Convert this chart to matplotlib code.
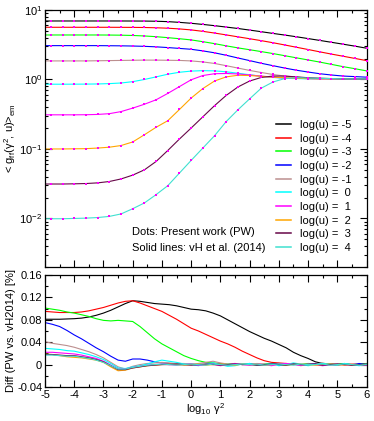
import numpy as np
import matplotlib
matplotlib.use("Agg")
import matplotlib.pyplot as plt
from matplotlib.ticker import MultipleLocator, LogLocator, NullFormatter

plt.rcParams['font.family'] = ['Liberation Sans', 'DejaVu Sans']
plt.rcParams['mathtext.fontset'] = 'custom'
plt.rcParams['mathtext.rm'] = 'Liberation Sans'
plt.rcParams['mathtext.it'] = 'Liberation Sans'

# ---------------- data: top panel ----------------
log_gamma2 = [-5.0, -4.8, -4.4, -4.0, -3.6, -3.2, -2.8, -2.4, -2.0, -1.6, -1.2, -0.8, -0.4, 0.0,
              0.4, 0.8, 1.2, 1.6, 2.0, 2.4, 2.8, 3.2, 3.6, 4.0, 4.4, 4.8, 5.2, 5.6, 6.0]
log_u = [-5, -4, -3, -2, -1, 0, 1, 2, 3, 4]

g_m5 = [6.95, 6.95, 6.95, 6.95, 6.95, 6.95, 6.95, 6.95, 6.94, 6.93, 6.89, 6.80, 6.64, 6.44,
        6.20, 5.95, 5.68, 5.42, 5.14, 4.87, 4.60, 4.36, 4.12, 3.88, 3.65, 3.43, 3.22, 3.02, 2.82]
g_m4 = [5.64, 5.64, 5.64, 5.64, 5.64, 5.64, 5.64, 5.63, 5.62, 5.60, 5.55, 5.47, 5.34, 5.17,
        4.93, 4.66, 4.38, 4.11, 3.86, 3.62, 3.38, 3.14, 2.91, 2.70, 2.50, 2.32, 2.16, 2.01, 1.87]
g_m3 = [4.37, 4.37, 4.37, 4.37, 4.37, 4.37, 4.36, 4.34, 4.30, 4.23, 4.13, 4.00, 3.86, 3.71,
        3.50, 3.28, 3.05, 2.85, 2.68, 2.52, 2.36, 2.20, 2.05, 1.91, 1.78, 1.65, 1.53, 1.43, 1.33]
g_m2 = [3.07, 3.07, 3.07, 3.07, 3.07, 3.07, 3.06, 3.05, 3.03, 3.00, 2.95, 2.88, 2.80, 2.72,
        2.58, 2.42, 2.23, 2.04, 1.87, 1.71, 1.58, 1.46, 1.36, 1.28, 1.21, 1.16, 1.12, 1.10, 1.08]
g_m1 = [1.85, 1.85, 1.85, 1.85, 1.85, 1.86, 1.87, 1.88, 1.89, 1.90, 1.90, 1.89, 1.88, 1.85,
        1.79, 1.70, 1.58, 1.46, 1.35, 1.26, 1.18, 1.12, 1.08, 1.05, 1.04, 1.03, 1.02, 1.02, 1.02]
g_0 = [0.855, 0.855, 0.855, 0.856, 0.858, 0.862, 0.872, 0.89, 0.93, 1.00, 1.09, 1.19, 1.27, 1.32,
       1.34, 1.33, 1.29, 1.23, 1.17, 1.11, 1.07, 1.04, 1.03, 1.02, 1.02, 1.02, 1.02, 1.02, 1.02]
g_1 = [0.31, 0.31, 0.31, 0.31, 0.311, 0.314, 0.322, 0.345, 0.387, 0.44, 0.51, 0.63, 0.79, 0.99,
       1.14, 1.21, 1.22, 1.20, 1.16, 1.12, 1.08, 1.05, 1.04, 1.03, 1.02, 1.02, 1.02, 1.02, 1.02]
g_2 = [0.10, 0.10, 0.10, 0.1005, 0.101, 0.103, 0.106, 0.112, 0.126, 0.16, 0.205, 0.255, 0.37, 0.54,
       0.74, 0.95, 1.09, 1.15, 1.14, 1.11, 1.08, 1.06, 1.04, 1.03, 1.02, 1.02, 1.02, 1.02, 1.02]
g_3 = [0.0313, 0.0313, 0.0313, 0.0315, 0.0318, 0.0325, 0.034, 0.037, 0.042, 0.050, 0.066, 0.095, 0.139, 0.20,
       0.29, 0.42, 0.59, 0.78, 0.95, 1.07, 1.12, 1.12, 1.09, 1.06, 1.04, 1.03, 1.02, 1.02, 1.02]
g_4 = [0.0099, 0.0099, 0.0099, 0.0100, 0.0101, 0.0103, 0.0107, 0.0116, 0.0138, 0.0167, 0.022, 0.0296, 0.045, 0.0684,
       0.103, 0.155, 0.248, 0.366, 0.526, 0.75, 0.92, 1.03, 1.06, 1.05, 1.04, 1.03, 1.02, 1.02, 1.02]

# ---------------- data: bottom panel ----------------
log_gamma2_d = [-5, -4.75, -4.5, -4.25, -4, -3.75, -3.5, -3.25, -3, -2.75, -2.5, -2.25, -2, -1.75, -1.5,
                -1.25, -1, -0.75, -0.5, -0.25, 0, 0.25, 0.5, 0.75, 1, 1.25, 1.5, 1.75, 2, 2.25,
                2.5, 2.75, 3, 3.25, 3.5, 3.75, 4, 4.25, 4.5, 4.75, 5, 5.25, 5.5, 5.75, 6]
d_m5 = [0.081, 0.081, 0.081, 0.0815, 0.082, 0.083, 0.085, 0.088, 0.092, 0.097, 0.103, 0.109, 0.114, 0.113, 0.111,
        0.109, 0.108, 0.107, 0.105, 0.102, 0.099, 0.098, 0.096, 0.092, 0.087, 0.080, 0.073, 0.066, 0.059, 0.053,
        0.047, 0.042, 0.036, 0.030, 0.022, 0.016, 0.011, 0.005, 0.002, 0.001, 0.000, 0.001, 0.000, -0.001, 0.000]
d_m4 = [0.095, 0.094, 0.093, 0.093, 0.093, 0.094, 0.096, 0.099, 0.102, 0.106, 0.110, 0.113, 0.114, 0.110, 0.105,
        0.100, 0.095, 0.088, 0.081, 0.073, 0.065, 0.060, 0.054, 0.048, 0.042, 0.037, 0.031, 0.024, 0.018, 0.012,
        0.007, 0.004, 0.003, 0.002, 0.001, 0.000, 0.001, 0.000, -0.001, 0.001, 0.000, 0.001, -0.001, 0.000, 0.001]
d_m3 = [0.101, 0.099, 0.097, 0.094, 0.092, 0.089, 0.086, 0.082, 0.079, 0.078, 0.079, 0.078, 0.077, 0.068, 0.057,
        0.046, 0.037, 0.030, 0.023, 0.016, 0.011, 0.007, 0.004, 0.003, 0.002, 0.001, 0.002, 0.000, 0.001, -0.001,
        0.001, 0.002, 0.000, -0.001, 0.001, 0.000, 0.002, 0.001, -0.001, 0.000, 0.001, 0.002, 0.000, 0.001, 0.002]
d_m2 = [0.075, 0.072, 0.068, 0.061, 0.053, 0.046, 0.038, 0.030, 0.023, 0.015, 0.008, 0.006, 0.010, 0.010, 0.008,
        0.005, 0.003, 0.002, 0.001, 0.000, 0.001, -0.001, 0.000, 0.002, 0.001, -0.001, 0.000, 0.001, 0.002, 0.000,
        -0.001, 0.001, 0.002, 0.000, 0.001, -0.001, 0.000, 0.002, 0.001, 0.000, -0.001, 0.001, 0.000, 0.002, 0.000]
d_m1 = [0.041, 0.038, 0.036, 0.034, 0.031, 0.027, 0.023, 0.018, 0.012, 0.004, -0.004, -0.008, -0.003, 0.000, 0.002,
        0.003, 0.004, 0.003, 0.002, 0.002, 0.001, 0.002, 0.004, 0.006, 0.003, 0.001, -0.001, 0.001, 0.000, 0.002,
        0.001, -0.001, 0.000, 0.002, 0.001, -0.002, 0.000, 0.001, 0.003, 0.000, -0.001, 0.001, 0.000, -0.001, 0.001]
d_0 = [0.029, 0.028, 0.027, 0.025, 0.024, 0.021, 0.018, 0.014, 0.009, 0.002, -0.006, -0.007, -0.004, -0.002, 0.001,
       0.005, 0.008, 0.006, 0.004, 0.001, 0.000, -0.002, 0.001, 0.003, 0.000, -0.003, -0.002, 0.001, 0.002, -0.001,
       0.000, 0.002, -0.002, 0.000, 0.003, 0.001, -0.002, 0.000, 0.002, 0.001, -0.001, 0.002, 0.000, -0.002, 0.001]
d_1 = [0.022, 0.022, 0.021, 0.020, 0.019, 0.017, 0.014, 0.011, 0.006, -0.001, -0.008, -0.008, -0.005, -0.003, -0.001,
       0.000, 0.001, 0.000, -0.001, 0.000, 0.001, -0.001, 0.000, 0.001, -0.002, 0.000, 0.002, 0.000, -0.001, 0.001,
       0.000, -0.002, 0.001, 0.002, 0.000, -0.001, 0.001, 0.000, -0.002, 0.000, 0.001, -0.001, 0.001, 0.000, -0.001]
d_2 = [0.019, 0.018, 0.016, 0.014, 0.013, 0.012, 0.010, 0.008, 0.004, -0.004, -0.011, -0.010, -0.006, -0.004, -0.002,
       -0.001, 0.000, 0.001, 0.000, -0.001, 0.000, 0.001, -0.001, 0.000, 0.001, 0.000, -0.001, 0.001, 0.000, 0.001,
       -0.001, 0.000, 0.001, -0.001, 0.000, 0.001, 0.000, -0.001, 0.000, 0.001, 0.000, -0.001, 0.001, 0.000, 0.000]
d_3 = [0.018, 0.018, 0.017, 0.016, 0.016, 0.014, 0.012, 0.009, 0.005, -0.002, -0.009, -0.009, -0.006, -0.004, -0.002,
       -0.001, 0.000, 0.000, 0.001, 0.000, -0.001, 0.000, 0.001, 0.000, -0.001, 0.000, 0.001, 0.000, 0.000, -0.001,
       0.000, 0.001, 0.000, -0.001, 0.001, 0.000, 0.000, 0.001, -0.001, 0.000, 0.001, 0.000, -0.001, 0.000, 0.001]
d_4 = [0.017, 0.017, 0.016, 0.015, 0.015, 0.013, 0.011, 0.008, 0.004, -0.002, -0.008, -0.008, -0.005, -0.003, -0.001,
       0.000, 0.001, 0.000, -0.001, 0.000, 0.001, 0.000, -0.001, 0.001, 0.000, -0.001, 0.000, 0.001, 0.000, 0.001,
       -0.001, 0.000, 0.001, 0.000, -0.001, 0.001, 0.000, 0.000, 0.001, -0.001, 0.000, 0.001, 0.000, -0.001, 0.000]

g_series = [g_m5, g_m4, g_m3, g_m2, g_m1, g_0, g_1, g_2, g_3, g_4]
d_series = [d_m5, d_m4, d_m3, d_m2, d_m1, d_0, d_1, d_2, d_3, d_4]
colors = ['#000000', '#ff0000', '#00ff00', '#0000ff', '#bc8f8f', '#00ffff',
          '#ff00ff', '#ffa500', '#670748', '#40e0d0']

W, H = 374, 421
fig = plt.figure(figsize=(W / 100, H / 100), dpi=100)

def frac(l, t, r, b):
    return [l / W, 1 - b / H, (r - l) / W, (b - t) / H]

ax1 = fig.add_axes(frac(45, 10, 366.5, 267))
ax2 = fig.add_axes(frac(45, 275, 366.5, 387))

for u, g, c in zip(log_u, g_series, colors):
    lab = f'log(u) = {u:d}' if u < 0 else f'log(u) =  {u:d}'
    ax1.plot(log_gamma2, g, color=c, lw=0.8, label=lab, zorder=2)
for g in g_series:
    ax1.plot(log_gamma2[1:], g[1:], ls='none', marker='s', ms=1.8,
             color='#ff00ff', mew=0, zorder=3)

ax1.set_yscale('log')
ax1.set_xlim(-5, 6)
ax1.set_ylim(0.002, 10)
ax1.xaxis.set_major_locator(MultipleLocator(1))
ax1.xaxis.set_minor_locator(MultipleLocator(0.5))
ax1.xaxis.set_major_formatter(NullFormatter())
ax1.yaxis.set_major_locator(LogLocator(base=10, numticks=10))
ax1.yaxis.set_minor_locator(LogLocator(base=10, subs=np.arange(2, 10), numticks=20))
ax1.yaxis.set_minor_formatter(NullFormatter())
ax1.set_ylabel(r'< g$_{\rm ff}$($\gamma^2$, u)>$_{\rm em}$', fontsize=8, labelpad=1)

leg = ax1.legend(loc='upper left', bbox_to_anchor=(0.72, 0.572), frameon=False,
                 fontsize=8, handlelength=1.35, handletextpad=0.75, labelspacing=0.33,
                 borderpad=0.0, borderaxespad=0.0)
for ln in leg.get_lines():
    ln.set_linewidth(1.1)
ax1.text(0.272, 0.135, 'Dots: Present work (PW)', transform=ax1.transAxes,
         fontsize=8, va='center')
ax1.text(0.272, 0.072, 'Solid lines: vH et al. (2014)', transform=ax1.transAxes,
         fontsize=8, va='center')

for c, d in zip(colors, d_series):
    ax2.plot(log_gamma2_d, d, color=c, lw=0.8)
ax2.set_xlim(-5, 6)
ax2.set_ylim(-0.04, 0.16)
ax2.xaxis.set_major_locator(MultipleLocator(1))
ax2.xaxis.set_minor_locator(MultipleLocator(0.5))
ax2.yaxis.set_major_locator(MultipleLocator(0.04))
ax2.yaxis.set_minor_locator(MultipleLocator(0.02))
ax2.set_yticks([-0.04, 0, 0.04, 0.08, 0.12, 0.16])
ax2.set_yticklabels(['-0.04', '0', '0.04', '0.08', '0.12', '0.16'])
ax2.set_xticks(range(-5, 7))
ax2.set_xticklabels([str(v) for v in range(-5, 7)])
ax2.set_xlabel(r'log$_{10}$ $\gamma^2$', fontsize=8, labelpad=1)
ax2.set_ylabel('Diff (PW vs. vH2014) [%]', fontsize=8, labelpad=1)

for ax in (ax1, ax2):
    ax.tick_params(which='both', direction='in', top=True, right=True, labelsize=8, width=0.8)
    ax.tick_params(which='major', length=5, pad=2)
    ax.tick_params(which='minor', length=2.5)
    for s in ax.spines.values():
        s.set_linewidth(0.9)

fig.savefig('out.png', dpi=100)
